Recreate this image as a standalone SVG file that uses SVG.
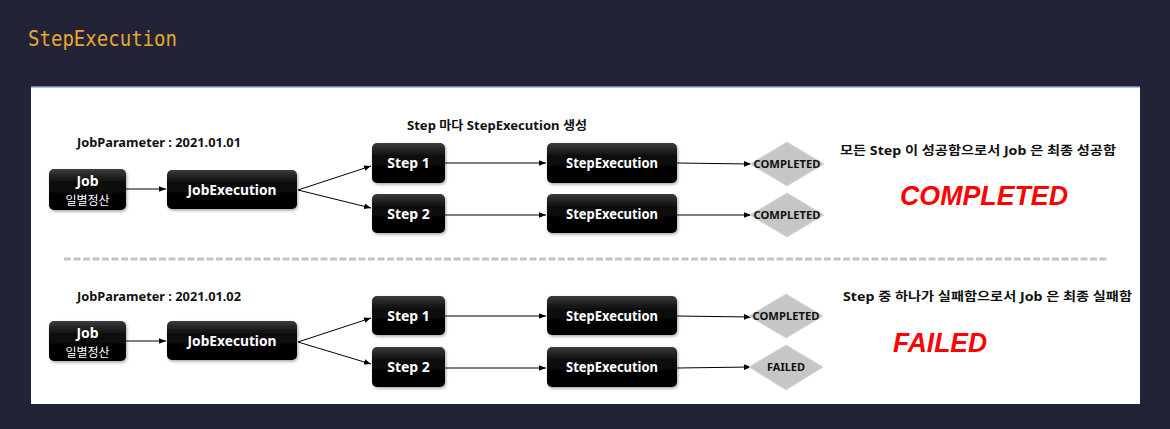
<svg xmlns="http://www.w3.org/2000/svg" width="1170" height="429" viewBox="0 0 1170 429">
<defs>
<style>
.bg{fill:#222336}
.title{font-family:"DejaVu Sans Mono","Liberation Mono",monospace;font-size:22px;fill:#e8a633}
.box{fill:url(#bx);filter:url(#sh)}
.nt{font-family:"Noto Sans","Noto Sans CJK KR",sans-serif;font-weight:bold;font-size:14px;fill:#fff;text-anchor:middle}
.ns{font-family:"Noto Sans CJK KR",sans-serif;font-size:12px;fill:#fff;text-anchor:middle}
.lbl{font-family:"Noto Sans","Noto Sans CJK KR",sans-serif;font-weight:bold;font-size:12px;fill:#111}
.dia{fill:#c6c6c6;stroke:#d8d8d8;stroke-width:1}
.dt{font-family:"Noto Sans",sans-serif;font-weight:bold;font-size:10.5px;fill:#111;text-anchor:middle}
.big{font-family:"Liberation Sans","Noto Sans",sans-serif;font-weight:bold;font-style:italic;font-size:28px;fill:#ff0000}
.ln{stroke:#000;stroke-width:1;fill:none;marker-end:url(#ah)}
</style>
<linearGradient id="bx" x1="0" y1="0" x2="0" y2="1">
<stop offset="0" stop-color="#3c3c3c"/>
<stop offset="0.35" stop-color="#0a0a0a"/>
<stop offset="1" stop-color="#000"/>
</linearGradient>
<filter id="sh" x="-20%" y="-20%" width="140%" height="150%">
<feDropShadow dx="1" dy="1.5" stdDeviation="1.5" flood-color="#000" flood-opacity="0.35"/>
</filter>
<marker id="ah" viewBox="0 0 10 10" refX="10" refY="5" markerWidth="7" markerHeight="7" orient="auto" markerUnits="userSpaceOnUse">
<path d="M0,1 L10,5 L0,9 z" fill="#000"/>
</marker>
</defs>
<rect class="bg" x="0" y="0" width="1170" height="429"/>
<text class="title" x="28" y="46" textLength="149" lengthAdjust="spacingAndGlyphs">StepExecution</text>
<rect x="31" y="86" width="1109" height="318" fill="#fff"/>
<rect x="31" y="86" width="1109" height="1.5" fill="#5b86c0"/>

<line x1="64" y1="259" x2="1109" y2="259" stroke="#c4c4c4" stroke-width="3" stroke-dasharray="7 2.5"/>

<g id="texts">
<text class="lbl" x="77" y="147" textLength="164" lengthAdjust="spacingAndGlyphs">JobParameter : 2021.01.01</text>
<text class="lbl" x="407" y="130" textLength="180" lengthAdjust="spacingAndGlyphs">Step 마다 StepExecution 생성</text>
<text class="lbl" x="840" y="155" textLength="276" lengthAdjust="spacingAndGlyphs">모든 Step 이 성공함으로서 Job 은 최종 성공함</text>
<text class="big" x="900" y="205" textLength="168" lengthAdjust="spacingAndGlyphs">COMPLETED</text>
<text class="lbl" x="77" y="301" textLength="164" lengthAdjust="spacingAndGlyphs">JobParameter : 2021.01.02</text>
<text class="lbl" x="843" y="301" textLength="289" lengthAdjust="spacingAndGlyphs">Step 중 하나가 실패함으로서 Job 은 최종 실패함</text>
<text class="big" x="893" y="352" textLength="94" lengthAdjust="spacingAndGlyphs">FAILED</text>
</g>

<g id="connectors">
<line class="ln" x1="126" y1="189" x2="166" y2="189"/>
<line class="ln" x1="298" y1="190" x2="371" y2="166"/>
<line class="ln" x1="298" y1="190" x2="371" y2="208"/>
<line class="ln" x1="445" y1="163" x2="546" y2="163"/>
<line class="ln" x1="445" y1="215" x2="546" y2="215"/>
<line class="ln" x1="677" y1="163" x2="751" y2="164"/>
<line class="ln" x1="677" y1="215" x2="751" y2="215"/>
<line class="ln" x1="126" y1="341" x2="166" y2="341"/>
<line class="ln" x1="298" y1="342" x2="371" y2="318"/>
<line class="ln" x1="298" y1="342" x2="371" y2="364"/>
<line class="ln" x1="445" y1="316" x2="546" y2="316"/>
<line class="ln" x1="445" y1="368" x2="546" y2="368"/>
<line class="ln" x1="677" y1="316" x2="751" y2="317"/>
<line class="ln" x1="677" y1="368" x2="751" y2="367"/>
</g>

<g id="job1"><rect class="box" x="49" y="169" width="77" height="41" rx="5"/><text class="nt" x="87.5" y="186">Job</text><text class="ns" x="87.5" y="205">일별정산</text></g>
<g id="jobexec1"><rect class="box" x="167" y="170" width="130" height="39" rx="5"/><text class="nt" x="232" y="195" textLength="89" lengthAdjust="spacingAndGlyphs">JobExecution</text></g>
<g id="step1a"><rect class="box" x="372" y="143" width="73" height="40" rx="5"/><text class="nt" x="408.5" y="168">Step 1</text></g>
<g id="step2a"><rect class="box" x="372" y="194" width="73" height="39" rx="5"/><text class="nt" x="408.5" y="219">Step 2</text></g>
<g id="stepexec1a"><rect class="box" x="547" y="143" width="130" height="40" rx="5"/><text class="nt" x="612" y="168" textLength="92" lengthAdjust="spacingAndGlyphs">StepExecution</text></g>
<g id="stepexec2a"><rect class="box" x="547" y="194" width="130" height="39" rx="5"/><text class="nt" x="612" y="219" textLength="92" lengthAdjust="spacingAndGlyphs">StepExecution</text></g>
<g id="status1a"><polygon class="dia" points="787,142 824,164 787,186 750,164"/><text class="dt" x="787" y="167.5" textLength="67" lengthAdjust="spacingAndGlyphs">COMPLETED</text></g>
<g id="status2a"><polygon class="dia" points="787,193 824,215 787,237 750,215"/><text class="dt" x="787" y="218.5" textLength="67" lengthAdjust="spacingAndGlyphs">COMPLETED</text></g>

<g id="job2"><rect class="box" x="49" y="321" width="77" height="40" rx="5"/><text class="nt" x="87.5" y="338">Job</text><text class="ns" x="87.5" y="357">일별정산</text></g>
<g id="jobexec2"><rect class="box" x="167" y="321" width="130" height="39" rx="5"/><text class="nt" x="232" y="346" textLength="89" lengthAdjust="spacingAndGlyphs">JobExecution</text></g>
<g id="step1b"><rect class="box" x="372" y="296" width="73" height="39" rx="5"/><text class="nt" x="408.5" y="321">Step 1</text></g>
<g id="step2b"><rect class="box" x="372" y="347" width="73" height="40" rx="5"/><text class="nt" x="408.5" y="372">Step 2</text></g>
<g id="stepexec1b"><rect class="box" x="547" y="296" width="130" height="39" rx="5"/><text class="nt" x="612" y="321" textLength="92" lengthAdjust="spacingAndGlyphs">StepExecution</text></g>
<g id="stepexec2b"><rect class="box" x="547" y="347" width="130" height="40" rx="5"/><text class="nt" x="612" y="372" textLength="92" lengthAdjust="spacingAndGlyphs">StepExecution</text></g>
<g id="status1b"><polygon class="dia" points="786,294 823,316 786,338 749,316"/><text class="dt" x="786" y="319.5" textLength="67" lengthAdjust="spacingAndGlyphs">COMPLETED</text></g>
<g id="status2b"><polygon class="dia" points="786,345 823,367 786,390 749,367"/><text class="dt" x="786" y="370.5" textLength="38" lengthAdjust="spacingAndGlyphs">FAILED</text></g>
</svg>
